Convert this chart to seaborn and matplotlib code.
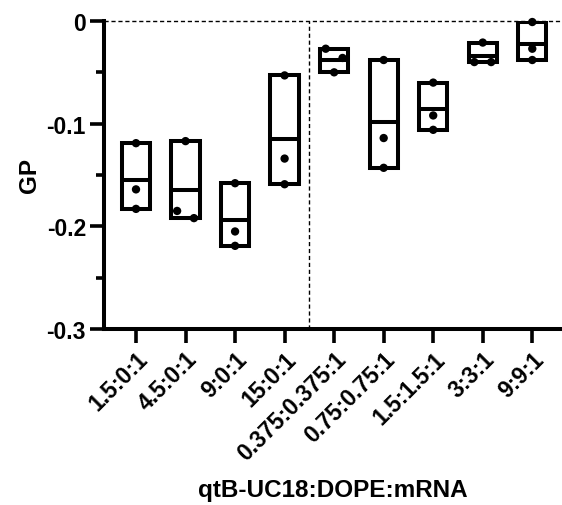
import numpy as np
import pandas as pd
import matplotlib
matplotlib.use("Agg")
import matplotlib.pyplot as plt
import seaborn as sns
from matplotlib.ticker import FixedLocator

categories = ["1.5:0:1", "4.5:0:1", "9:0:1", "15:0:1", "0.375:0.375:1",
              "0.75:0.75:1", "1.5:1.5:1", "3:3:1", "9:9:1"]
rep1 = [-0.119, -0.117, -0.158, -0.053, -0.027, -0.038, -0.060, -0.021, -0.001]
rep2 = [-0.164, -0.185, -0.205, -0.134, -0.036, -0.114, -0.092, -0.040, -0.027]
rep3 = [-0.183, -0.192, -0.219, -0.159, -0.050, -0.143, -0.106, -0.040, -0.038]
yticks = [0, -0.1, -0.2, -0.3]
ytick_labels = ["0", "-0.1", "-0.2", "-0.3"]
yminor = [-0.05, -0.15, -0.25]
xlabel = "qtB-UC18:DOPE:mRNA"
ylabel = "GP"

sns.set_style("ticks")
plt.rcParams["font.family"] = ["Liberation Sans", "DejaVu Sans"]
plt.rcParams["font.weight"] = "bold"
plt.rcParams["text.color"] = "black"
plt.rcParams["axes.labelcolor"] = "black"
plt.rcParams["axes.edgecolor"] = "black"
plt.rcParams["xtick.color"] = "black"
plt.rcParams["ytick.color"] = "black"

reps = np.array([rep1, rep2, rep3]).T  # shape (ncat, 3)
summary = pd.DataFrame({
    "category": categories,
    "min": reps.min(axis=1),
    "max": reps.max(axis=1),
    "mean": reps.mean(axis=1),
})
summary["range"] = summary["max"] - summary["min"]

# scatter offsets: spread points that nearly coincide (like GraphPad)
rows = []
for i, cat in enumerate(categories):
    vals = sorted(reps[i], reverse=True)
    offs = [0.0] * len(vals)
    for j in range(len(vals) - 1):
        if abs(vals[j] - vals[j + 1]) < 0.01 and offs[j] == 0 and offs[j + 1] == 0:
            offs[j] = -0.17
            offs[j + 1] = 0.17
    for v, o in zip(vals, offs):
        rows.append({"category": cat, "value": v, "xpos": i + o})
pts = pd.DataFrame(rows)

fig = plt.figure(figsize=(5.62, 5.06), dpi=100)
ax = fig.add_axes([104 / 562, 1 - 330 / 506, 1 - 104 / 562, (330 - 22) / 506])

lw = 2.9
bw = 0.57
sns.barplot(data=summary, x="category", y="range", order=categories,
            bottom=summary["min"].to_numpy(), color="white", saturation=1,
            edgecolor="black", linewidth=lw, width=bw, errorbar=None, ax=ax,
            zorder=3)
for p in ax.patches:
    p.set_facecolor("white")
    p.set_edgecolor("black")

xs = np.arange(len(categories))
ax.hlines(summary["mean"], xs - bw / 2, xs + bw / 2, color="black", lw=lw, zorder=4)

sns.scatterplot(data=pts, x="xpos", y="value", color="black", s=36,
                edgecolor="none", zorder=6, clip_on=False, legend=False, ax=ax)

ax.axhline(0, color="black", lw=1, ls=(0, (3, 2)), zorder=2, clip_on=False)
ax.axvline(3.5, color="black", lw=1, ls=(0, (3, 2)), zorder=2)

ax.set_xlim(-0.646, 8.6)
ax.set_ylim(-0.3, 0)
ax.yaxis.set_major_locator(FixedLocator(yticks))
ax.set_yticklabels(ytick_labels)
ax.yaxis.set_minor_locator(FixedLocator(yminor))
ax.set_xticks(xs)
ax.set_xticklabels(categories, rotation=45, ha="right", rotation_mode="anchor")

for s in ["top", "right"]:
    ax.spines[s].set_visible(False)
for s in ["left", "bottom"]:
    ax.spines[s].set_linewidth(lw)
    ax.spines[s].set_color("black")
    ax.spines[s].set_capstyle("projecting")

ax.tick_params(axis="both", which="major", length=10, width=2.6, labelsize=16.5,
               colors="black", labelcolor="black", pad=3)
ax.tick_params(axis="y", which="minor", length=6, width=2.6, colors="black")
for lab in ax.get_xticklabels() + ax.get_yticklabels():
    lab.set_fontweight("bold")
    lab.set_color("black")

ax.set_xlabel(xlabel, fontsize=17.5, fontweight="bold", labelpad=10, color="black")
ax.set_ylabel(ylabel, fontsize=17.5, fontweight="bold", labelpad=4, color="black")

fig.savefig("out.png", dpi=100)
